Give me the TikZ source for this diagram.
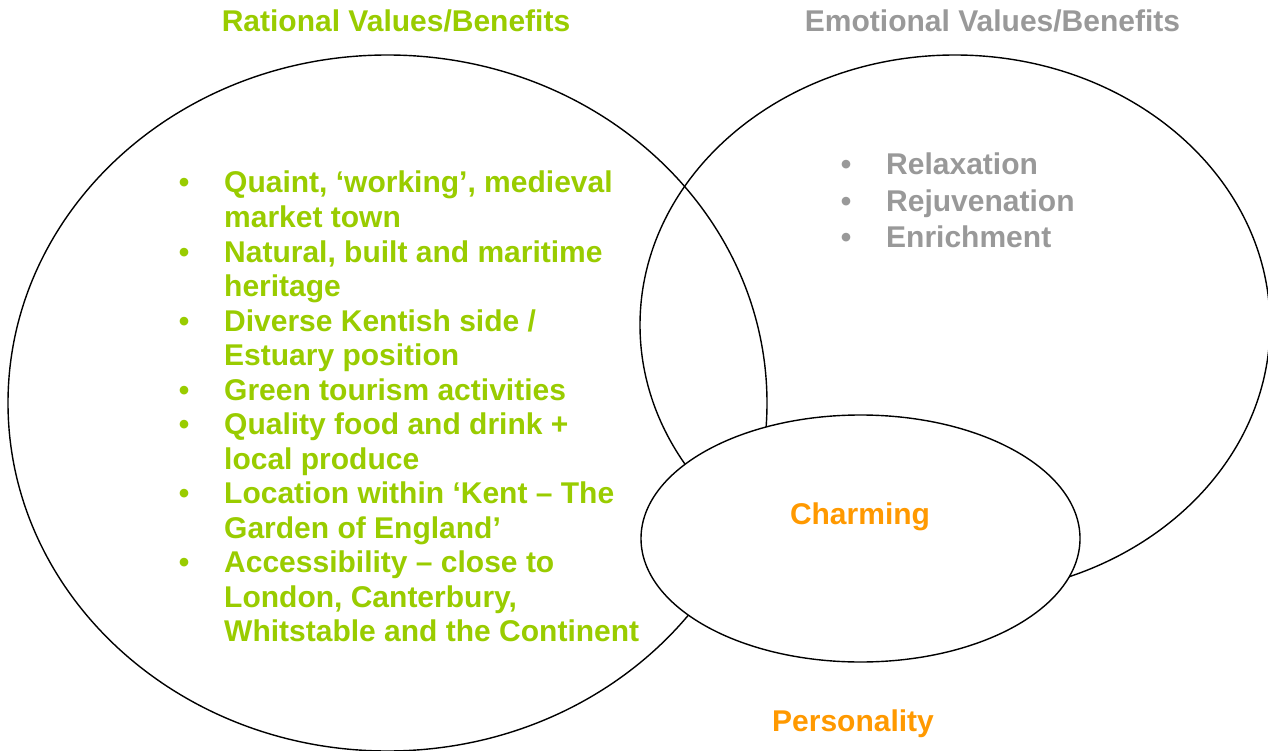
\documentclass[tikz,border=0pt]{standalone}
\usepackage{fontspec}
\setmainfont{Liberation Sans}
\definecolor{rgreen}{HTML}{99CC00}
\definecolor{egray}{HTML}{999999}
\definecolor{porange}{HTML}{FF9900}
\begin{document}
\begin{tikzpicture}[x=1pt,y=-1pt,
  ring/.style={draw=black, line width=1.4pt},
  lbl/.style={font=\bfseries\fontsize{30}{34.5}\selectfont, inner sep=0pt},
  gline/.style={lbl, text=rgreen, anchor=base west},
  gbul/.style={lbl, text=rgreen, anchor=base},
  eline/.style={lbl, text=egray, anchor=base west},
  ebul/.style={lbl, text=egray, anchor=base},
]
\useasboundingbox (0,0) rectangle (1268,751);

% three value circles
\draw[ring] (387.5,403) ellipse [x radius=379.5, y radius=348];
\draw[ring] (955,325) ellipse [x radius=315, y radius=270];
\draw[ring, fill=white] (860.5,538.5) ellipse [x radius=219.5, y radius=123.5];

% headings
\node[lbl, text=rgreen, anchor=base] (hr) at (396,32) {Rational Values/Benefits};
\node[lbl, text=egray, anchor=base] (he) at (992.5,32) {Emotional Values/Benefits};
\node[lbl, text=porange, anchor=base] (hp) at (853,731) {Personality};
\node[lbl, text=porange, anchor=base] (ch) at (860,524) {Charming};

% rational benefits list
\node[gbul] (gb1) at (184,193) {•};
\node[gline] (g1)  at (224,193)   {Quaint, ‘working’, medieval};
\node[gline] (g2)  at (224,227.5) {market town};
\node[gbul] (gb2) at (184,262) {•};
\node[gline] (g3)  at (224,262)   {Natural, built and maritime};
\node[gline] (g4)  at (224,296.5) {heritage};
\node[gbul] (gb3) at (184,331) {•};
\node[gline] (g5)  at (224,331)   {Diverse Kentish side /};
\node[gline] (g6)  at (224,365.5) {Estuary position};
\node[gbul] (gb4) at (184,400) {•};
\node[gline] (g7)  at (224,400)   {Green tourism activities};
\node[gbul] (gb5) at (184,434.5) {•};
\node[gline] (g8)  at (224,434.5) {Quality food and drink +};
\node[gline] (g9)  at (224,469)   {local produce};
\node[gbul] (gb6) at (184,503.5) {•};
\node[gline] (g10) at (224,503.5) {Location within ‘Kent – The};
\node[gline] (g11) at (224,538)   {Garden of England’};
\node[gbul] (gb7) at (184,572.5) {•};
\node[gline] (g12) at (224,572.5) {Accessibility – close to};
\node[gline] (g13) at (224,607)   {London, Canterbury,};
\node[gline] (g14) at (224,641.5) {Whitstable and the Continent};

% emotional benefits list
\node[ebul] (eb1) at (846,175) {•};
\node[eline] (e1) at (886,175) {Relaxation};
\node[ebul] (eb2) at (846,211.3) {•};
\node[eline] (e2) at (886,211.3) {Rejuvenation};
\node[ebul] (eb3) at (846,247.6) {•};
\node[eline] (e3) at (886,247.6) {Enrichment};
\end{tikzpicture}
\end{document}
